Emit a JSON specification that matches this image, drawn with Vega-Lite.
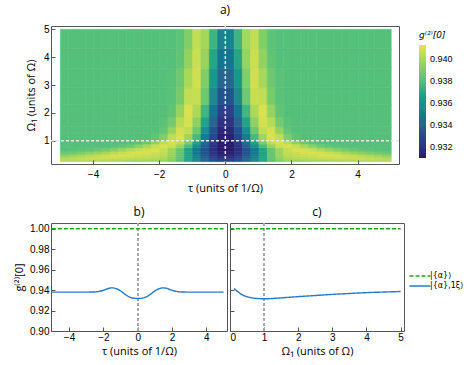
{
"$schema":"https://vega.github.io/schema/vega-lite/v6.json",
"background":"white",
"padding":{"left":13,"top":3,"right":2,"bottom":2},
"bounds":"flush",
"spacing":59,
"config":{
"font":"Liberation Sans",
"view":{"stroke":"#555","strokeWidth":1},
"rect":{"binSpacing":0},
"axis":{"labelFontSize":10,"labelColor":"#000","titleFontSize":11,"titleFontWeight":"normal","titleColor":"#000","titleFont":"Open Sans","domain":false,"grid":false,"tickColor":"#555","tickSize":4,"offset":-4,"labelOverlap":false,"tickCount":20},
"title":{"fontSize":12,"fontWeight":"normal","font":"Open Sans","color":"#000"}
},
"resolve":{"scale":{"color":"independent","strokeDash":"independent"},"legend":{"color":"independent","strokeDash":"independent"}},
"datasets":{
"heat":[
{"t":-4.875,"a":0.25,"b":0.31,"g":0.9403},{"t":-4.625,"a":0.25,"b":0.31,"g":0.9403},{"t":-4.375,"a":0.25,"b":0.31,"g":0.9403},{"t":-4.125,"a":0.25,"b":0.31,"g":0.9402},{"t":-3.875,"a":0.25,"b":0.31,"g":0.9402},{"t":-3.625,"a":0.25,"b":0.31,"g":0.9401},{"t":-3.375,"a":0.25,"b":0.31,"g":0.94},{"t":-3.125,"a":0.25,"b":0.31,"g":0.94},{"t":-2.875,"a":0.25,"b":0.31,"g":0.9399},{"t":-2.625,"a":0.25,"b":0.31,"g":0.9398},{"t":-2.375,"a":0.25,"b":0.31,"g":0.9398},{"t":-2.125,"a":0.25,"b":0.31,"g":0.9397},{"t":-1.875,"a":0.25,"b":0.31,"g":0.9396},{"t":-1.625,"a":0.25,"b":0.31,"g":0.9391},{"t":-1.375,"a":0.25,"b":0.31,"g":0.9381},{"t":-1.125,"a":0.25,"b":0.31,"g":0.9369},{"t":-0.875,"a":0.25,"b":0.31,"g":0.9356},{"t":-0.625,"a":0.25,"b":0.31,"g":0.9344},{"t":-0.375,"a":0.25,"b":0.31,"g":0.9334},{"t":-0.125,"a":0.25,"b":0.31,"g":0.9329},
{"t":0.125,"a":0.25,"b":0.31,"g":0.9329},{"t":0.375,"a":0.25,"b":0.31,"g":0.9334},{"t":0.625,"a":0.25,"b":0.31,"g":0.9344},{"t":0.875,"a":0.25,"b":0.31,"g":0.9356},{"t":1.125,"a":0.25,"b":0.31,"g":0.9369},{"t":1.375,"a":0.25,"b":0.31,"g":0.9381},{"t":1.625,"a":0.25,"b":0.31,"g":0.9391},{"t":1.875,"a":0.25,"b":0.31,"g":0.9396},{"t":2.125,"a":0.25,"b":0.31,"g":0.9397},{"t":2.375,"a":0.25,"b":0.31,"g":0.9398},{"t":2.625,"a":0.25,"b":0.31,"g":0.9398},{"t":2.875,"a":0.25,"b":0.31,"g":0.9399},{"t":3.125,"a":0.25,"b":0.31,"g":0.94},{"t":3.375,"a":0.25,"b":0.31,"g":0.94},{"t":3.625,"a":0.25,"b":0.31,"g":0.9401},{"t":3.875,"a":0.25,"b":0.31,"g":0.9402},{"t":4.125,"a":0.25,"b":0.31,"g":0.9402},{"t":4.375,"a":0.25,"b":0.31,"g":0.9403},{"t":4.625,"a":0.25,"b":0.31,"g":0.9403},{"t":4.875,"a":0.25,"b":0.31,"g":0.9403},
{"t":-4.875,"a":0.31,"b":0.37,"g":0.9403},{"t":-4.625,"a":0.31,"b":0.37,"g":0.9404},{"t":-4.375,"a":0.31,"b":0.37,"g":0.9405},{"t":-4.125,"a":0.31,"b":0.37,"g":0.9406},{"t":-3.875,"a":0.31,"b":0.37,"g":0.9406},{"t":-3.625,"a":0.31,"b":0.37,"g":0.9405},{"t":-3.375,"a":0.31,"b":0.37,"g":0.9404},{"t":-3.125,"a":0.31,"b":0.37,"g":0.9404},{"t":-2.875,"a":0.31,"b":0.37,"g":0.9403},{"t":-2.625,"a":0.31,"b":0.37,"g":0.9402},{"t":-2.375,"a":0.31,"b":0.37,"g":0.9401},{"t":-2.125,"a":0.31,"b":0.37,"g":0.94},{"t":-1.875,"a":0.31,"b":0.37,"g":0.9399},{"t":-1.625,"a":0.31,"b":0.37,"g":0.9393},{"t":-1.375,"a":0.31,"b":0.37,"g":0.9382},{"t":-1.125,"a":0.31,"b":0.37,"g":0.9368},{"t":-0.875,"a":0.31,"b":0.37,"g":0.9354},{"t":-0.625,"a":0.31,"b":0.37,"g":0.934},{"t":-0.375,"a":0.31,"b":0.37,"g":0.9329},{"t":-0.125,"a":0.31,"b":0.37,"g":0.9323},
{"t":0.125,"a":0.31,"b":0.37,"g":0.9323},{"t":0.375,"a":0.31,"b":0.37,"g":0.9329},{"t":0.625,"a":0.31,"b":0.37,"g":0.934},{"t":0.875,"a":0.31,"b":0.37,"g":0.9354},{"t":1.125,"a":0.31,"b":0.37,"g":0.9368},{"t":1.375,"a":0.31,"b":0.37,"g":0.9382},{"t":1.625,"a":0.31,"b":0.37,"g":0.9393},{"t":1.875,"a":0.31,"b":0.37,"g":0.9399},{"t":2.125,"a":0.31,"b":0.37,"g":0.94},{"t":2.375,"a":0.31,"b":0.37,"g":0.9401},{"t":2.625,"a":0.31,"b":0.37,"g":0.9402},{"t":2.875,"a":0.31,"b":0.37,"g":0.9403},{"t":3.125,"a":0.31,"b":0.37,"g":0.9404},{"t":3.375,"a":0.31,"b":0.37,"g":0.9404},{"t":3.625,"a":0.31,"b":0.37,"g":0.9405},{"t":3.875,"a":0.31,"b":0.37,"g":0.9406},{"t":4.125,"a":0.31,"b":0.37,"g":0.9406},{"t":4.375,"a":0.31,"b":0.37,"g":0.9405},{"t":4.625,"a":0.31,"b":0.37,"g":0.9404},{"t":4.875,"a":0.31,"b":0.37,"g":0.9403},
{"t":-4.875,"a":0.37,"b":0.44,"g":0.9399},{"t":-4.625,"a":0.37,"b":0.44,"g":0.9402},{"t":-4.375,"a":0.37,"b":0.44,"g":0.9404},{"t":-4.125,"a":0.37,"b":0.44,"g":0.9406},{"t":-3.875,"a":0.37,"b":0.44,"g":0.9407},{"t":-3.625,"a":0.37,"b":0.44,"g":0.9408},{"t":-3.375,"a":0.37,"b":0.44,"g":0.9408},{"t":-3.125,"a":0.37,"b":0.44,"g":0.9407},{"t":-2.875,"a":0.37,"b":0.44,"g":0.9406},{"t":-2.625,"a":0.37,"b":0.44,"g":0.9405},{"t":-2.375,"a":0.37,"b":0.44,"g":0.9404},{"t":-2.125,"a":0.37,"b":0.44,"g":0.9403},{"t":-1.875,"a":0.37,"b":0.44,"g":0.9401},{"t":-1.625,"a":0.37,"b":0.44,"g":0.9394},{"t":-1.375,"a":0.37,"b":0.44,"g":0.9383},{"t":-1.125,"a":0.37,"b":0.44,"g":0.9368},{"t":-0.875,"a":0.37,"b":0.44,"g":0.9352},{"t":-0.625,"a":0.37,"b":0.44,"g":0.9338},{"t":-0.375,"a":0.37,"b":0.44,"g":0.9326},{"t":-0.125,"a":0.37,"b":0.44,"g":0.9319},
{"t":0.125,"a":0.37,"b":0.44,"g":0.9319},{"t":0.375,"a":0.37,"b":0.44,"g":0.9326},{"t":0.625,"a":0.37,"b":0.44,"g":0.9338},{"t":0.875,"a":0.37,"b":0.44,"g":0.9352},{"t":1.125,"a":0.37,"b":0.44,"g":0.9368},{"t":1.375,"a":0.37,"b":0.44,"g":0.9383},{"t":1.625,"a":0.37,"b":0.44,"g":0.9394},{"t":1.875,"a":0.37,"b":0.44,"g":0.9401},{"t":2.125,"a":0.37,"b":0.44,"g":0.9403},{"t":2.375,"a":0.37,"b":0.44,"g":0.9404},{"t":2.625,"a":0.37,"b":0.44,"g":0.9405},{"t":2.875,"a":0.37,"b":0.44,"g":0.9406},{"t":3.125,"a":0.37,"b":0.44,"g":0.9407},{"t":3.375,"a":0.37,"b":0.44,"g":0.9408},{"t":3.625,"a":0.37,"b":0.44,"g":0.9408},{"t":3.875,"a":0.37,"b":0.44,"g":0.9407},{"t":4.125,"a":0.37,"b":0.44,"g":0.9406},{"t":4.375,"a":0.37,"b":0.44,"g":0.9404},{"t":4.625,"a":0.37,"b":0.44,"g":0.9402},{"t":4.875,"a":0.37,"b":0.44,"g":0.9399},
{"t":-4.875,"a":0.44,"b":0.52,"g":0.9393},{"t":-4.625,"a":0.44,"b":0.52,"g":0.9396},{"t":-4.375,"a":0.44,"b":0.52,"g":0.9399},{"t":-4.125,"a":0.44,"b":0.52,"g":0.9402},{"t":-3.875,"a":0.44,"b":0.52,"g":0.9405},{"t":-3.625,"a":0.44,"b":0.52,"g":0.9407},{"t":-3.375,"a":0.44,"b":0.52,"g":0.9409},{"t":-3.125,"a":0.44,"b":0.52,"g":0.941},{"t":-2.875,"a":0.44,"b":0.52,"g":0.941},{"t":-2.625,"a":0.44,"b":0.52,"g":0.9408},{"t":-2.375,"a":0.44,"b":0.52,"g":0.9407},{"t":-2.125,"a":0.44,"b":0.52,"g":0.9406},{"t":-1.875,"a":0.44,"b":0.52,"g":0.9404},{"t":-1.625,"a":0.44,"b":0.52,"g":0.9397},{"t":-1.375,"a":0.44,"b":0.52,"g":0.9384},{"t":-1.125,"a":0.44,"b":0.52,"g":0.9368},{"t":-0.875,"a":0.44,"b":0.52,"g":0.9352},{"t":-0.625,"a":0.44,"b":0.52,"g":0.9336},{"t":-0.375,"a":0.44,"b":0.52,"g":0.9323},{"t":-0.125,"a":0.44,"b":0.52,"g":0.9316},
{"t":0.125,"a":0.44,"b":0.52,"g":0.9316},{"t":0.375,"a":0.44,"b":0.52,"g":0.9323},{"t":0.625,"a":0.44,"b":0.52,"g":0.9336},{"t":0.875,"a":0.44,"b":0.52,"g":0.9352},{"t":1.125,"a":0.44,"b":0.52,"g":0.9368},{"t":1.375,"a":0.44,"b":0.52,"g":0.9384},{"t":1.625,"a":0.44,"b":0.52,"g":0.9397},{"t":1.875,"a":0.44,"b":0.52,"g":0.9404},{"t":2.125,"a":0.44,"b":0.52,"g":0.9406},{"t":2.375,"a":0.44,"b":0.52,"g":0.9407},{"t":2.625,"a":0.44,"b":0.52,"g":0.9408},{"t":2.875,"a":0.44,"b":0.52,"g":0.941},{"t":3.125,"a":0.44,"b":0.52,"g":0.941},{"t":3.375,"a":0.44,"b":0.52,"g":0.9409},{"t":3.625,"a":0.44,"b":0.52,"g":0.9407},{"t":3.875,"a":0.44,"b":0.52,"g":0.9405},{"t":4.125,"a":0.44,"b":0.52,"g":0.9402},{"t":4.375,"a":0.44,"b":0.52,"g":0.9399},{"t":4.625,"a":0.44,"b":0.52,"g":0.9396},{"t":4.875,"a":0.44,"b":0.52,"g":0.9393},
{"t":-4.875,"a":0.52,"b":0.62,"g":0.9385},{"t":-4.625,"a":0.52,"b":0.62,"g":0.9387},{"t":-4.375,"a":0.52,"b":0.62,"g":0.939},{"t":-4.125,"a":0.52,"b":0.62,"g":0.9393},{"t":-3.875,"a":0.52,"b":0.62,"g":0.9396},{"t":-3.625,"a":0.52,"b":0.62,"g":0.94},{"t":-3.375,"a":0.52,"b":0.62,"g":0.9404},{"t":-3.125,"a":0.52,"b":0.62,"g":0.9407},{"t":-2.875,"a":0.52,"b":0.62,"g":0.9409},{"t":-2.625,"a":0.52,"b":0.62,"g":0.941},{"t":-2.375,"a":0.52,"b":0.62,"g":0.9409},{"t":-2.125,"a":0.52,"b":0.62,"g":0.9407},{"t":-1.875,"a":0.52,"b":0.62,"g":0.9405},{"t":-1.625,"a":0.52,"b":0.62,"g":0.9397},{"t":-1.375,"a":0.52,"b":0.62,"g":0.9384},{"t":-1.125,"a":0.52,"b":0.62,"g":0.9368},{"t":-0.875,"a":0.52,"b":0.62,"g":0.935},{"t":-0.625,"a":0.52,"b":0.62,"g":0.9334},{"t":-0.375,"a":0.52,"b":0.62,"g":0.9321},{"t":-0.125,"a":0.52,"b":0.62,"g":0.9313},
{"t":0.125,"a":0.52,"b":0.62,"g":0.9313},{"t":0.375,"a":0.52,"b":0.62,"g":0.9321},{"t":0.625,"a":0.52,"b":0.62,"g":0.9334},{"t":0.875,"a":0.52,"b":0.62,"g":0.935},{"t":1.125,"a":0.52,"b":0.62,"g":0.9368},{"t":1.375,"a":0.52,"b":0.62,"g":0.9384},{"t":1.625,"a":0.52,"b":0.62,"g":0.9397},{"t":1.875,"a":0.52,"b":0.62,"g":0.9405},{"t":2.125,"a":0.52,"b":0.62,"g":0.9407},{"t":2.375,"a":0.52,"b":0.62,"g":0.9409},{"t":2.625,"a":0.52,"b":0.62,"g":0.941},{"t":2.875,"a":0.52,"b":0.62,"g":0.9409},{"t":3.125,"a":0.52,"b":0.62,"g":0.9407},{"t":3.375,"a":0.52,"b":0.62,"g":0.9404},{"t":3.625,"a":0.52,"b":0.62,"g":0.94},{"t":3.875,"a":0.52,"b":0.62,"g":0.9396},{"t":4.125,"a":0.52,"b":0.62,"g":0.9393},{"t":4.375,"a":0.52,"b":0.62,"g":0.939},{"t":4.625,"a":0.52,"b":0.62,"g":0.9387},{"t":4.875,"a":0.52,"b":0.62,"g":0.9385},
{"t":-4.875,"a":0.62,"b":0.75,"g":0.938},{"t":-4.625,"a":0.62,"b":0.75,"g":0.9381},{"t":-4.375,"a":0.62,"b":0.75,"g":0.9382},{"t":-4.125,"a":0.62,"b":0.75,"g":0.9383},{"t":-3.875,"a":0.62,"b":0.75,"g":0.9385},{"t":-3.625,"a":0.62,"b":0.75,"g":0.9388},{"t":-3.375,"a":0.62,"b":0.75,"g":0.9392},{"t":-3.125,"a":0.62,"b":0.75,"g":0.9397},{"t":-2.875,"a":0.62,"b":0.75,"g":0.9402},{"t":-2.625,"a":0.62,"b":0.75,"g":0.9406},{"t":-2.375,"a":0.62,"b":0.75,"g":0.9409},{"t":-2.125,"a":0.62,"b":0.75,"g":0.941},{"t":-1.875,"a":0.62,"b":0.75,"g":0.9406},{"t":-1.625,"a":0.62,"b":0.75,"g":0.9398},{"t":-1.375,"a":0.62,"b":0.75,"g":0.9384},{"t":-1.125,"a":0.62,"b":0.75,"g":0.9368},{"t":-0.875,"a":0.62,"b":0.75,"g":0.9349},{"t":-0.625,"a":0.62,"b":0.75,"g":0.9333},{"t":-0.375,"a":0.62,"b":0.75,"g":0.9319},{"t":-0.125,"a":0.62,"b":0.75,"g":0.9311},
{"t":0.125,"a":0.62,"b":0.75,"g":0.9311},{"t":0.375,"a":0.62,"b":0.75,"g":0.9319},{"t":0.625,"a":0.62,"b":0.75,"g":0.9333},{"t":0.875,"a":0.62,"b":0.75,"g":0.9349},{"t":1.125,"a":0.62,"b":0.75,"g":0.9368},{"t":1.375,"a":0.62,"b":0.75,"g":0.9384},{"t":1.625,"a":0.62,"b":0.75,"g":0.9398},{"t":1.875,"a":0.62,"b":0.75,"g":0.9406},{"t":2.125,"a":0.62,"b":0.75,"g":0.941},{"t":2.375,"a":0.62,"b":0.75,"g":0.9409},{"t":2.625,"a":0.62,"b":0.75,"g":0.9406},{"t":2.875,"a":0.62,"b":0.75,"g":0.9402},{"t":3.125,"a":0.62,"b":0.75,"g":0.9397},{"t":3.375,"a":0.62,"b":0.75,"g":0.9392},{"t":3.625,"a":0.62,"b":0.75,"g":0.9388},{"t":3.875,"a":0.62,"b":0.75,"g":0.9385},{"t":4.125,"a":0.62,"b":0.75,"g":0.9383},{"t":4.375,"a":0.62,"b":0.75,"g":0.9382},{"t":4.625,"a":0.62,"b":0.75,"g":0.9381},{"t":4.875,"a":0.62,"b":0.75,"g":0.938},
{"t":-4.875,"a":0.75,"b":0.88,"g":0.938},{"t":-4.625,"a":0.75,"b":0.88,"g":0.938},{"t":-4.375,"a":0.75,"b":0.88,"g":0.938},{"t":-4.125,"a":0.75,"b":0.88,"g":0.938},{"t":-3.875,"a":0.75,"b":0.88,"g":0.938},{"t":-3.625,"a":0.75,"b":0.88,"g":0.938},{"t":-3.375,"a":0.75,"b":0.88,"g":0.9381},{"t":-3.125,"a":0.75,"b":0.88,"g":0.9383},{"t":-2.875,"a":0.75,"b":0.88,"g":0.9387},{"t":-2.625,"a":0.75,"b":0.88,"g":0.9393},{"t":-2.375,"a":0.75,"b":0.88,"g":0.94},{"t":-2.125,"a":0.75,"b":0.88,"g":0.9406},{"t":-1.875,"a":0.75,"b":0.88,"g":0.941},{"t":-1.625,"a":0.75,"b":0.88,"g":0.9407},{"t":-1.375,"a":0.75,"b":0.88,"g":0.9396},{"t":-1.125,"a":0.75,"b":0.88,"g":0.9378},{"t":-0.875,"a":0.75,"b":0.88,"g":0.9358},{"t":-0.625,"a":0.75,"b":0.88,"g":0.9338},{"t":-0.375,"a":0.75,"b":0.88,"g":0.9321},{"t":-0.125,"a":0.75,"b":0.88,"g":0.9311},
{"t":0.125,"a":0.75,"b":0.88,"g":0.9311},{"t":0.375,"a":0.75,"b":0.88,"g":0.9321},{"t":0.625,"a":0.75,"b":0.88,"g":0.9338},{"t":0.875,"a":0.75,"b":0.88,"g":0.9358},{"t":1.125,"a":0.75,"b":0.88,"g":0.9378},{"t":1.375,"a":0.75,"b":0.88,"g":0.9396},{"t":1.625,"a":0.75,"b":0.88,"g":0.9407},{"t":1.875,"a":0.75,"b":0.88,"g":0.941},{"t":2.125,"a":0.75,"b":0.88,"g":0.9406},{"t":2.375,"a":0.75,"b":0.88,"g":0.94},{"t":2.625,"a":0.75,"b":0.88,"g":0.9393},{"t":2.875,"a":0.75,"b":0.88,"g":0.9387},{"t":3.125,"a":0.75,"b":0.88,"g":0.9383},{"t":3.375,"a":0.75,"b":0.88,"g":0.9381},{"t":3.625,"a":0.75,"b":0.88,"g":0.938},{"t":3.875,"a":0.75,"b":0.88,"g":0.938},{"t":4.125,"a":0.75,"b":0.88,"g":0.938},{"t":4.375,"a":0.75,"b":0.88,"g":0.938},{"t":4.625,"a":0.75,"b":0.88,"g":0.938},{"t":4.875,"a":0.75,"b":0.88,"g":0.938},
{"t":-4.875,"a":0.88,"b":1.0,"g":0.938},{"t":-4.625,"a":0.88,"b":1.0,"g":0.938},{"t":-4.375,"a":0.88,"b":1.0,"g":0.938},{"t":-4.125,"a":0.88,"b":1.0,"g":0.938},{"t":-3.875,"a":0.88,"b":1.0,"g":0.938},{"t":-3.625,"a":0.88,"b":1.0,"g":0.938},{"t":-3.375,"a":0.88,"b":1.0,"g":0.938},{"t":-3.125,"a":0.88,"b":1.0,"g":0.938},{"t":-2.875,"a":0.88,"b":1.0,"g":0.938},{"t":-2.625,"a":0.88,"b":1.0,"g":0.9382},{"t":-2.375,"a":0.88,"b":1.0,"g":0.9386},{"t":-2.125,"a":0.88,"b":1.0,"g":0.9395},{"t":-1.875,"a":0.88,"b":1.0,"g":0.9404},{"t":-1.625,"a":0.88,"b":1.0,"g":0.941},{"t":-1.375,"a":0.88,"b":1.0,"g":0.9405},{"t":-1.125,"a":0.88,"b":1.0,"g":0.939},{"t":-0.875,"a":0.88,"b":1.0,"g":0.9368},{"t":-0.625,"a":0.88,"b":1.0,"g":0.9345},{"t":-0.375,"a":0.88,"b":1.0,"g":0.9324},{"t":-0.125,"a":0.88,"b":1.0,"g":0.9312},
{"t":0.125,"a":0.88,"b":1.0,"g":0.9312},{"t":0.375,"a":0.88,"b":1.0,"g":0.9324},{"t":0.625,"a":0.88,"b":1.0,"g":0.9345},{"t":0.875,"a":0.88,"b":1.0,"g":0.9368},{"t":1.125,"a":0.88,"b":1.0,"g":0.939},{"t":1.375,"a":0.88,"b":1.0,"g":0.9405},{"t":1.625,"a":0.88,"b":1.0,"g":0.941},{"t":1.875,"a":0.88,"b":1.0,"g":0.9404},{"t":2.125,"a":0.88,"b":1.0,"g":0.9395},{"t":2.375,"a":0.88,"b":1.0,"g":0.9386},{"t":2.625,"a":0.88,"b":1.0,"g":0.9382},{"t":2.875,"a":0.88,"b":1.0,"g":0.938},{"t":3.125,"a":0.88,"b":1.0,"g":0.938},{"t":3.375,"a":0.88,"b":1.0,"g":0.938},{"t":3.625,"a":0.88,"b":1.0,"g":0.938},{"t":3.875,"a":0.88,"b":1.0,"g":0.938},{"t":4.125,"a":0.88,"b":1.0,"g":0.938},{"t":4.375,"a":0.88,"b":1.0,"g":0.938},{"t":4.625,"a":0.88,"b":1.0,"g":0.938},{"t":4.875,"a":0.88,"b":1.0,"g":0.938},
{"t":-4.875,"a":1.0,"b":1.25,"g":0.938},{"t":-4.625,"a":1.0,"b":1.25,"g":0.938},{"t":-4.375,"a":1.0,"b":1.25,"g":0.938},{"t":-4.125,"a":1.0,"b":1.25,"g":0.938},{"t":-3.875,"a":1.0,"b":1.25,"g":0.938},{"t":-3.625,"a":1.0,"b":1.25,"g":0.938},{"t":-3.375,"a":1.0,"b":1.25,"g":0.938},{"t":-3.125,"a":1.0,"b":1.25,"g":0.938},{"t":-2.875,"a":1.0,"b":1.25,"g":0.938},{"t":-2.625,"a":1.0,"b":1.25,"g":0.938},{"t":-2.375,"a":1.0,"b":1.25,"g":0.938},{"t":-2.125,"a":1.0,"b":1.25,"g":0.9383},{"t":-1.875,"a":1.0,"b":1.25,"g":0.9391},{"t":-1.625,"a":1.0,"b":1.25,"g":0.9405},{"t":-1.375,"a":1.0,"b":1.25,"g":0.941},{"t":-1.125,"a":1.0,"b":1.25,"g":0.9398},{"t":-0.875,"a":1.0,"b":1.25,"g":0.9377},{"t":-0.625,"a":1.0,"b":1.25,"g":0.9351},{"t":-0.375,"a":1.0,"b":1.25,"g":0.9328},{"t":-0.125,"a":1.0,"b":1.25,"g":0.9313},
{"t":0.125,"a":1.0,"b":1.25,"g":0.9313},{"t":0.375,"a":1.0,"b":1.25,"g":0.9328},{"t":0.625,"a":1.0,"b":1.25,"g":0.9351},{"t":0.875,"a":1.0,"b":1.25,"g":0.9377},{"t":1.125,"a":1.0,"b":1.25,"g":0.9398},{"t":1.375,"a":1.0,"b":1.25,"g":0.941},{"t":1.625,"a":1.0,"b":1.25,"g":0.9405},{"t":1.875,"a":1.0,"b":1.25,"g":0.9391},{"t":2.125,"a":1.0,"b":1.25,"g":0.9383},{"t":2.375,"a":1.0,"b":1.25,"g":0.938},{"t":2.625,"a":1.0,"b":1.25,"g":0.938},{"t":2.875,"a":1.0,"b":1.25,"g":0.938},{"t":3.125,"a":1.0,"b":1.25,"g":0.938},{"t":3.375,"a":1.0,"b":1.25,"g":0.938},{"t":3.625,"a":1.0,"b":1.25,"g":0.938},{"t":3.875,"a":1.0,"b":1.25,"g":0.938},{"t":4.125,"a":1.0,"b":1.25,"g":0.938},{"t":4.375,"a":1.0,"b":1.25,"g":0.938},{"t":4.625,"a":1.0,"b":1.25,"g":0.938},{"t":4.875,"a":1.0,"b":1.25,"g":0.938},
{"t":-4.875,"a":1.25,"b":1.5,"g":0.938},{"t":-4.625,"a":1.25,"b":1.5,"g":0.938},{"t":-4.375,"a":1.25,"b":1.5,"g":0.938},{"t":-4.125,"a":1.25,"b":1.5,"g":0.938},{"t":-3.875,"a":1.25,"b":1.5,"g":0.938},{"t":-3.625,"a":1.25,"b":1.5,"g":0.938},{"t":-3.375,"a":1.25,"b":1.5,"g":0.938},{"t":-3.125,"a":1.25,"b":1.5,"g":0.938},{"t":-2.875,"a":1.25,"b":1.5,"g":0.938},{"t":-2.625,"a":1.25,"b":1.5,"g":0.938},{"t":-2.375,"a":1.25,"b":1.5,"g":0.938},{"t":-2.125,"a":1.25,"b":1.5,"g":0.938},{"t":-1.875,"a":1.25,"b":1.5,"g":0.9384},{"t":-1.625,"a":1.25,"b":1.5,"g":0.9396},{"t":-1.375,"a":1.25,"b":1.5,"g":0.9409},{"t":-1.125,"a":1.25,"b":1.5,"g":0.9405},{"t":-0.875,"a":1.25,"b":1.5,"g":0.9386},{"t":-0.625,"a":1.25,"b":1.5,"g":0.9359},{"t":-0.375,"a":1.25,"b":1.5,"g":0.9333},{"t":-0.125,"a":1.25,"b":1.5,"g":0.9316},
{"t":0.125,"a":1.25,"b":1.5,"g":0.9316},{"t":0.375,"a":1.25,"b":1.5,"g":0.9333},{"t":0.625,"a":1.25,"b":1.5,"g":0.9359},{"t":0.875,"a":1.25,"b":1.5,"g":0.9386},{"t":1.125,"a":1.25,"b":1.5,"g":0.9405},{"t":1.375,"a":1.25,"b":1.5,"g":0.9409},{"t":1.625,"a":1.25,"b":1.5,"g":0.9396},{"t":1.875,"a":1.25,"b":1.5,"g":0.9384},{"t":2.125,"a":1.25,"b":1.5,"g":0.938},{"t":2.375,"a":1.25,"b":1.5,"g":0.938},{"t":2.625,"a":1.25,"b":1.5,"g":0.938},{"t":2.875,"a":1.25,"b":1.5,"g":0.938},{"t":3.125,"a":1.25,"b":1.5,"g":0.938},{"t":3.375,"a":1.25,"b":1.5,"g":0.938},{"t":3.625,"a":1.25,"b":1.5,"g":0.938},{"t":3.875,"a":1.25,"b":1.5,"g":0.938},{"t":4.125,"a":1.25,"b":1.5,"g":0.938},{"t":4.375,"a":1.25,"b":1.5,"g":0.938},{"t":4.625,"a":1.25,"b":1.5,"g":0.938},{"t":4.875,"a":1.25,"b":1.5,"g":0.938},
{"t":-4.875,"a":1.5,"b":1.85,"g":0.938},{"t":-4.625,"a":1.5,"b":1.85,"g":0.938},{"t":-4.375,"a":1.5,"b":1.85,"g":0.938},{"t":-4.125,"a":1.5,"b":1.85,"g":0.938},{"t":-3.875,"a":1.5,"b":1.85,"g":0.938},{"t":-3.625,"a":1.5,"b":1.85,"g":0.938},{"t":-3.375,"a":1.5,"b":1.85,"g":0.938},{"t":-3.125,"a":1.5,"b":1.85,"g":0.938},{"t":-2.875,"a":1.5,"b":1.85,"g":0.938},{"t":-2.625,"a":1.5,"b":1.85,"g":0.938},{"t":-2.375,"a":1.5,"b":1.85,"g":0.938},{"t":-2.125,"a":1.5,"b":1.85,"g":0.938},{"t":-1.875,"a":1.5,"b":1.85,"g":0.9381},{"t":-1.625,"a":1.5,"b":1.85,"g":0.9388},{"t":-1.375,"a":1.5,"b":1.85,"g":0.9403},{"t":-1.125,"a":1.5,"b":1.85,"g":0.9409},{"t":-0.875,"a":1.5,"b":1.85,"g":0.9394},{"t":-0.625,"a":1.5,"b":1.85,"g":0.9368},{"t":-0.375,"a":1.5,"b":1.85,"g":0.934},{"t":-0.125,"a":1.5,"b":1.85,"g":0.9321},
{"t":0.125,"a":1.5,"b":1.85,"g":0.9321},{"t":0.375,"a":1.5,"b":1.85,"g":0.934},{"t":0.625,"a":1.5,"b":1.85,"g":0.9368},{"t":0.875,"a":1.5,"b":1.85,"g":0.9394},{"t":1.125,"a":1.5,"b":1.85,"g":0.9409},{"t":1.375,"a":1.5,"b":1.85,"g":0.9403},{"t":1.625,"a":1.5,"b":1.85,"g":0.9388},{"t":1.875,"a":1.5,"b":1.85,"g":0.9381},{"t":2.125,"a":1.5,"b":1.85,"g":0.938},{"t":2.375,"a":1.5,"b":1.85,"g":0.938},{"t":2.625,"a":1.5,"b":1.85,"g":0.938},{"t":2.875,"a":1.5,"b":1.85,"g":0.938},{"t":3.125,"a":1.5,"b":1.85,"g":0.938},{"t":3.375,"a":1.5,"b":1.85,"g":0.938},{"t":3.625,"a":1.5,"b":1.85,"g":0.938},{"t":3.875,"a":1.5,"b":1.85,"g":0.938},{"t":4.125,"a":1.5,"b":1.85,"g":0.938},{"t":4.375,"a":1.5,"b":1.85,"g":0.938},{"t":4.625,"a":1.5,"b":1.85,"g":0.938},{"t":4.875,"a":1.5,"b":1.85,"g":0.938},
{"t":-4.875,"a":1.85,"b":2.3,"g":0.938},{"t":-4.625,"a":1.85,"b":2.3,"g":0.938},{"t":-4.375,"a":1.85,"b":2.3,"g":0.938},{"t":-4.125,"a":1.85,"b":2.3,"g":0.938},{"t":-3.875,"a":1.85,"b":2.3,"g":0.938},{"t":-3.625,"a":1.85,"b":2.3,"g":0.938},{"t":-3.375,"a":1.85,"b":2.3,"g":0.938},{"t":-3.125,"a":1.85,"b":2.3,"g":0.938},{"t":-2.875,"a":1.85,"b":2.3,"g":0.938},{"t":-2.625,"a":1.85,"b":2.3,"g":0.938},{"t":-2.375,"a":1.85,"b":2.3,"g":0.938},{"t":-2.125,"a":1.85,"b":2.3,"g":0.938},{"t":-1.875,"a":1.85,"b":2.3,"g":0.938},{"t":-1.625,"a":1.85,"b":2.3,"g":0.9383},{"t":-1.375,"a":1.85,"b":2.3,"g":0.9396},{"t":-1.125,"a":1.85,"b":2.3,"g":0.941},{"t":-0.875,"a":1.85,"b":2.3,"g":0.9401},{"t":-0.625,"a":1.85,"b":2.3,"g":0.9376},{"t":-0.375,"a":1.85,"b":2.3,"g":0.9347},{"t":-0.125,"a":1.85,"b":2.3,"g":0.9326},
{"t":0.125,"a":1.85,"b":2.3,"g":0.9326},{"t":0.375,"a":1.85,"b":2.3,"g":0.9347},{"t":0.625,"a":1.85,"b":2.3,"g":0.9376},{"t":0.875,"a":1.85,"b":2.3,"g":0.9401},{"t":1.125,"a":1.85,"b":2.3,"g":0.941},{"t":1.375,"a":1.85,"b":2.3,"g":0.9396},{"t":1.625,"a":1.85,"b":2.3,"g":0.9383},{"t":1.875,"a":1.85,"b":2.3,"g":0.938},{"t":2.125,"a":1.85,"b":2.3,"g":0.938},{"t":2.375,"a":1.85,"b":2.3,"g":0.938},{"t":2.625,"a":1.85,"b":2.3,"g":0.938},{"t":2.875,"a":1.85,"b":2.3,"g":0.938},{"t":3.125,"a":1.85,"b":2.3,"g":0.938},{"t":3.375,"a":1.85,"b":2.3,"g":0.938},{"t":3.625,"a":1.85,"b":2.3,"g":0.938},{"t":3.875,"a":1.85,"b":2.3,"g":0.938},{"t":4.125,"a":1.85,"b":2.3,"g":0.938},{"t":4.375,"a":1.85,"b":2.3,"g":0.938},{"t":4.625,"a":1.85,"b":2.3,"g":0.938},{"t":4.875,"a":1.85,"b":2.3,"g":0.938},
{"t":-4.875,"a":2.3,"b":2.9,"g":0.938},{"t":-4.625,"a":2.3,"b":2.9,"g":0.938},{"t":-4.375,"a":2.3,"b":2.9,"g":0.938},{"t":-4.125,"a":2.3,"b":2.9,"g":0.938},{"t":-3.875,"a":2.3,"b":2.9,"g":0.938},{"t":-3.625,"a":2.3,"b":2.9,"g":0.938},{"t":-3.375,"a":2.3,"b":2.9,"g":0.938},{"t":-3.125,"a":2.3,"b":2.9,"g":0.938},{"t":-2.875,"a":2.3,"b":2.9,"g":0.938},{"t":-2.625,"a":2.3,"b":2.9,"g":0.938},{"t":-2.375,"a":2.3,"b":2.9,"g":0.938},{"t":-2.125,"a":2.3,"b":2.9,"g":0.938},{"t":-1.875,"a":2.3,"b":2.9,"g":0.938},{"t":-1.625,"a":2.3,"b":2.9,"g":0.9381},{"t":-1.375,"a":2.3,"b":2.9,"g":0.9389},{"t":-1.125,"a":2.3,"b":2.9,"g":0.9405},{"t":-0.875,"a":2.3,"b":2.9,"g":0.9406},{"t":-0.625,"a":2.3,"b":2.9,"g":0.9386},{"t":-0.375,"a":2.3,"b":2.9,"g":0.9356},{"t":-0.125,"a":2.3,"b":2.9,"g":0.9334},
{"t":0.125,"a":2.3,"b":2.9,"g":0.9334},{"t":0.375,"a":2.3,"b":2.9,"g":0.9356},{"t":0.625,"a":2.3,"b":2.9,"g":0.9386},{"t":0.875,"a":2.3,"b":2.9,"g":0.9406},{"t":1.125,"a":2.3,"b":2.9,"g":0.9405},{"t":1.375,"a":2.3,"b":2.9,"g":0.9389},{"t":1.625,"a":2.3,"b":2.9,"g":0.9381},{"t":1.875,"a":2.3,"b":2.9,"g":0.938},{"t":2.125,"a":2.3,"b":2.9,"g":0.938},{"t":2.375,"a":2.3,"b":2.9,"g":0.938},{"t":2.625,"a":2.3,"b":2.9,"g":0.938},{"t":2.875,"a":2.3,"b":2.9,"g":0.938},{"t":3.125,"a":2.3,"b":2.9,"g":0.938},{"t":3.375,"a":2.3,"b":2.9,"g":0.938},{"t":3.625,"a":2.3,"b":2.9,"g":0.938},{"t":3.875,"a":2.3,"b":2.9,"g":0.938},{"t":4.125,"a":2.3,"b":2.9,"g":0.938},{"t":4.375,"a":2.3,"b":2.9,"g":0.938},{"t":4.625,"a":2.3,"b":2.9,"g":0.938},{"t":4.875,"a":2.3,"b":2.9,"g":0.938},
{"t":-4.875,"a":2.9,"b":3.6,"g":0.938},{"t":-4.625,"a":2.9,"b":3.6,"g":0.938},{"t":-4.375,"a":2.9,"b":3.6,"g":0.938},{"t":-4.125,"a":2.9,"b":3.6,"g":0.938},{"t":-3.875,"a":2.9,"b":3.6,"g":0.938},{"t":-3.625,"a":2.9,"b":3.6,"g":0.938},{"t":-3.375,"a":2.9,"b":3.6,"g":0.938},{"t":-3.125,"a":2.9,"b":3.6,"g":0.938},{"t":-2.875,"a":2.9,"b":3.6,"g":0.938},{"t":-2.625,"a":2.9,"b":3.6,"g":0.938},{"t":-2.375,"a":2.9,"b":3.6,"g":0.938},{"t":-2.125,"a":2.9,"b":3.6,"g":0.938},{"t":-1.875,"a":2.9,"b":3.6,"g":0.938},{"t":-1.625,"a":2.9,"b":3.6,"g":0.9381},{"t":-1.375,"a":2.9,"b":3.6,"g":0.9386},{"t":-1.125,"a":2.9,"b":3.6,"g":0.94},{"t":-0.875,"a":2.9,"b":3.6,"g":0.9408},{"t":-0.625,"a":2.9,"b":3.6,"g":0.9391},{"t":-0.375,"a":2.9,"b":3.6,"g":0.9363},{"t":-0.125,"a":2.9,"b":3.6,"g":0.9341},
{"t":0.125,"a":2.9,"b":3.6,"g":0.9341},{"t":0.375,"a":2.9,"b":3.6,"g":0.9363},{"t":0.625,"a":2.9,"b":3.6,"g":0.9391},{"t":0.875,"a":2.9,"b":3.6,"g":0.9408},{"t":1.125,"a":2.9,"b":3.6,"g":0.94},{"t":1.375,"a":2.9,"b":3.6,"g":0.9386},{"t":1.625,"a":2.9,"b":3.6,"g":0.9381},{"t":1.875,"a":2.9,"b":3.6,"g":0.938},{"t":2.125,"a":2.9,"b":3.6,"g":0.938},{"t":2.375,"a":2.9,"b":3.6,"g":0.938},{"t":2.625,"a":2.9,"b":3.6,"g":0.938},{"t":2.875,"a":2.9,"b":3.6,"g":0.938},{"t":3.125,"a":2.9,"b":3.6,"g":0.938},{"t":3.375,"a":2.9,"b":3.6,"g":0.938},{"t":3.625,"a":2.9,"b":3.6,"g":0.938},{"t":3.875,"a":2.9,"b":3.6,"g":0.938},{"t":4.125,"a":2.9,"b":3.6,"g":0.938},{"t":4.375,"a":2.9,"b":3.6,"g":0.938},{"t":4.625,"a":2.9,"b":3.6,"g":0.938},{"t":4.875,"a":2.9,"b":3.6,"g":0.938},
{"t":-4.875,"a":3.6,"b":4.3,"g":0.938},{"t":-4.625,"a":3.6,"b":4.3,"g":0.938},{"t":-4.375,"a":3.6,"b":4.3,"g":0.938},{"t":-4.125,"a":3.6,"b":4.3,"g":0.938},{"t":-3.875,"a":3.6,"b":4.3,"g":0.938},{"t":-3.625,"a":3.6,"b":4.3,"g":0.938},{"t":-3.375,"a":3.6,"b":4.3,"g":0.938},{"t":-3.125,"a":3.6,"b":4.3,"g":0.938},{"t":-2.875,"a":3.6,"b":4.3,"g":0.938},{"t":-2.625,"a":3.6,"b":4.3,"g":0.938},{"t":-2.375,"a":3.6,"b":4.3,"g":0.938},{"t":-2.125,"a":3.6,"b":4.3,"g":0.938},{"t":-1.875,"a":3.6,"b":4.3,"g":0.938},{"t":-1.625,"a":3.6,"b":4.3,"g":0.938},{"t":-1.375,"a":3.6,"b":4.3,"g":0.9383},{"t":-1.125,"a":3.6,"b":4.3,"g":0.9395},{"t":-0.875,"a":3.6,"b":4.3,"g":0.9407},{"t":-0.625,"a":3.6,"b":4.3,"g":0.9396},{"t":-0.375,"a":3.6,"b":4.3,"g":0.9369},{"t":-0.125,"a":3.6,"b":4.3,"g":0.9347},
{"t":0.125,"a":3.6,"b":4.3,"g":0.9347},{"t":0.375,"a":3.6,"b":4.3,"g":0.9369},{"t":0.625,"a":3.6,"b":4.3,"g":0.9396},{"t":0.875,"a":3.6,"b":4.3,"g":0.9407},{"t":1.125,"a":3.6,"b":4.3,"g":0.9395},{"t":1.375,"a":3.6,"b":4.3,"g":0.9383},{"t":1.625,"a":3.6,"b":4.3,"g":0.938},{"t":1.875,"a":3.6,"b":4.3,"g":0.938},{"t":2.125,"a":3.6,"b":4.3,"g":0.938},{"t":2.375,"a":3.6,"b":4.3,"g":0.938},{"t":2.625,"a":3.6,"b":4.3,"g":0.938},{"t":2.875,"a":3.6,"b":4.3,"g":0.938},{"t":3.125,"a":3.6,"b":4.3,"g":0.938},{"t":3.375,"a":3.6,"b":4.3,"g":0.938},{"t":3.625,"a":3.6,"b":4.3,"g":0.938},{"t":3.875,"a":3.6,"b":4.3,"g":0.938},{"t":4.125,"a":3.6,"b":4.3,"g":0.938},{"t":4.375,"a":3.6,"b":4.3,"g":0.938},{"t":4.625,"a":3.6,"b":4.3,"g":0.938},{"t":4.875,"a":3.6,"b":4.3,"g":0.938},
{"t":-4.875,"a":4.3,"b":5.0,"g":0.938},{"t":-4.625,"a":4.3,"b":5.0,"g":0.938},{"t":-4.375,"a":4.3,"b":5.0,"g":0.938},{"t":-4.125,"a":4.3,"b":5.0,"g":0.938},{"t":-3.875,"a":4.3,"b":5.0,"g":0.938},{"t":-3.625,"a":4.3,"b":5.0,"g":0.938},{"t":-3.375,"a":4.3,"b":5.0,"g":0.938},{"t":-3.125,"a":4.3,"b":5.0,"g":0.938},{"t":-2.875,"a":4.3,"b":5.0,"g":0.938},{"t":-2.625,"a":4.3,"b":5.0,"g":0.938},{"t":-2.375,"a":4.3,"b":5.0,"g":0.938},{"t":-2.125,"a":4.3,"b":5.0,"g":0.938},{"t":-1.875,"a":4.3,"b":5.0,"g":0.938},{"t":-1.625,"a":4.3,"b":5.0,"g":0.938},{"t":-1.375,"a":4.3,"b":5.0,"g":0.9382},{"t":-1.125,"a":4.3,"b":5.0,"g":0.9391},{"t":-0.875,"a":4.3,"b":5.0,"g":0.9405},{"t":-0.625,"a":4.3,"b":5.0,"g":0.9399},{"t":-0.375,"a":4.3,"b":5.0,"g":0.9375},{"t":-0.125,"a":4.3,"b":5.0,"g":0.9353},
{"t":0.125,"a":4.3,"b":5.0,"g":0.9353},{"t":0.375,"a":4.3,"b":5.0,"g":0.9375},{"t":0.625,"a":4.3,"b":5.0,"g":0.9399},{"t":0.875,"a":4.3,"b":5.0,"g":0.9405},{"t":1.125,"a":4.3,"b":5.0,"g":0.9391},{"t":1.375,"a":4.3,"b":5.0,"g":0.9382},{"t":1.625,"a":4.3,"b":5.0,"g":0.938},{"t":1.875,"a":4.3,"b":5.0,"g":0.938},{"t":2.125,"a":4.3,"b":5.0,"g":0.938},{"t":2.375,"a":4.3,"b":5.0,"g":0.938},{"t":2.625,"a":4.3,"b":5.0,"g":0.938},{"t":2.875,"a":4.3,"b":5.0,"g":0.938},{"t":3.125,"a":4.3,"b":5.0,"g":0.938},{"t":3.375,"a":4.3,"b":5.0,"g":0.938},{"t":3.625,"a":4.3,"b":5.0,"g":0.938},{"t":3.875,"a":4.3,"b":5.0,"g":0.938},{"t":4.125,"a":4.3,"b":5.0,"g":0.938},{"t":4.375,"a":4.3,"b":5.0,"g":0.938},{"t":4.625,"a":4.3,"b":5.0,"g":0.938},{"t":4.875,"a":4.3,"b":5.0,"g":0.938}
],
"lb":[
{"x":-5,"g":1,"s":"|{α}⟩"},{"x":5,"g":1,"s":"|{α}⟩"},
{"x":-5,"g":0.938,"s":"|{α},1ξ⟩"},{"x":-4.5,"g":0.938,"s":"|{α},1ξ⟩"},{"x":-4,"g":0.938,"s":"|{α},1ξ⟩"},{"x":-3.5,"g":0.938,"s":"|{α},1ξ⟩"},{"x":-3,"g":0.938,"s":"|{α},1ξ⟩"},{"x":-2.75,"g":0.9381,"s":"|{α},1ξ⟩"},{"x":-2.5,"g":0.9382,"s":"|{α},1ξ⟩"},{"x":-2.25,"g":0.9387,"s":"|{α},1ξ⟩"},{"x":-2,"g":0.9398,"s":"|{α},1ξ⟩"},{"x":-1.75,"g":0.9414,"s":"|{α},1ξ⟩"},{"x":-1.5,"g":0.9422,"s":"|{α},1ξ⟩"},{"x":-1.25,"g":0.9414,"s":"|{α},1ξ⟩"},{"x":-1,"g":0.9392,"s":"|{α},1ξ⟩"},{"x":-0.75,"g":0.936,"s":"|{α},1ξ⟩"},{"x":-0.5,"g":0.9334,"s":"|{α},1ξ⟩"},{"x":-0.25,"g":0.9321,"s":"|{α},1ξ⟩"},{"x":0,"g":0.9318,"s":"|{α},1ξ⟩"},{"x":0.25,"g":0.9321,"s":"|{α},1ξ⟩"},{"x":0.5,"g":0.9334,"s":"|{α},1ξ⟩"},{"x":0.75,"g":0.936,"s":"|{α},1ξ⟩"},{"x":1,"g":0.9392,"s":"|{α},1ξ⟩"},{"x":1.25,"g":0.9414,"s":"|{α},1ξ⟩"},{"x":1.5,"g":0.9422,"s":"|{α},1ξ⟩"},{"x":1.75,"g":0.9414,"s":"|{α},1ξ⟩"},{"x":2,"g":0.9398,"s":"|{α},1ξ⟩"},{"x":2.25,"g":0.9387,"s":"|{α},1ξ⟩"},{"x":2.5,"g":0.9382,"s":"|{α},1ξ⟩"},{"x":2.75,"g":0.9381,"s":"|{α},1ξ⟩"},{"x":3,"g":0.938,"s":"|{α},1ξ⟩"},{"x":3.5,"g":0.938,"s":"|{α},1ξ⟩"},{"x":4,"g":0.938,"s":"|{α},1ξ⟩"},{"x":4.5,"g":0.938,"s":"|{α},1ξ⟩"},{"x":5,"g":0.938,"s":"|{α},1ξ⟩"}
],
"lc":[
{"x":0,"g":1,"s":"|{α}⟩"},{"x":5,"g":1,"s":"|{α}⟩"},
{"x":0.12,"g":0.9416,"s":"|{α},1ξ⟩"},{"x":0.2,"g":0.9392,"s":"|{α},1ξ⟩"},{"x":0.3,"g":0.9366,"s":"|{α},1ξ⟩"},{"x":0.4,"g":0.9347,"s":"|{α},1ξ⟩"},{"x":0.5,"g":0.9335,"s":"|{α},1ξ⟩"},{"x":0.6,"g":0.9327,"s":"|{α},1ξ⟩"},{"x":0.7,"g":0.9321,"s":"|{α},1ξ⟩"},{"x":0.8,"g":0.9318,"s":"|{α},1ξ⟩"},{"x":0.9,"g":0.9316,"s":"|{α},1ξ⟩"},{"x":1.0,"g":0.9315,"s":"|{α},1ξ⟩"},{"x":1.25,"g":0.9318,"s":"|{α},1ξ⟩"},{"x":1.5,"g":0.9324,"s":"|{α},1ξ⟩"},{"x":2.0,"g":0.9336,"s":"|{α},1ξ⟩"},{"x":2.5,"g":0.9347,"s":"|{α},1ξ⟩"},{"x":3.0,"g":0.9358,"s":"|{α},1ξ⟩"},{"x":3.5,"g":0.9367,"s":"|{α},1ξ⟩"},{"x":4.0,"g":0.9375,"s":"|{α},1ξ⟩"},{"x":4.5,"g":0.9381,"s":"|{α},1ξ⟩"},{"x":5.0,"g":0.9386,"s":"|{α},1ξ⟩"}
]
},
"vconcat":[
{
"width":348,"height":138,
"title":{"text":"a)","offset":7},
"layer":[
{"data":{"name":"heat"},"mark":{"type":"rect","strokeWidth":0.6},
"encoding":{
"x":{"field":"t","type":"quantitative","bin":{"step":0.25,"extent":[-5,5]},"scale":{"domain":[-5.27,5.25],"nice":false,"zero":false},"axis":{"values":[-4,-2,0,2,4],"tickCount":20,"format":"d","title":"τ (units of 1/Ω)","labelPadding":5,"titlePadding":3,"labelOverlap":false}},
"y":{"field":"a","type":"quantitative","scale":{"domain":[0.165,5.12],"nice":false,"zero":false},"axis":{"values":[1,2,3,4,5],"tickCount":20,"format":"d","title":"Ω₁ (units of Ω)","labelPadding":2,"titlePadding":7,"labelOverlap":false}},
"y2":{"field":"b"},
"color":{"field":"g","type":"quantitative","scale":{"domain":[0.931,0.9325,0.934,0.9355,0.937,0.938,0.9395,0.9413],"clamp":true,"range":["#2a176c","#2e3d8a","#29638e","#21868c","#2aa784","#55c07a","#93d25f","#e8e34d"]},
"legend":{"title":"g⁽²⁾[0]","orient":"none","legendX":368,"legendY":5,"direction":"vertical","gradientLength":113,"gradientThickness":7,"gradientStrokeWidth":0,"values":[0.932,0.934,0.936,0.938,0.94],"format":".3f","labelFontSize":9,"labelOverlap":false,"labelOffset":4,"titleFontSize":9,"titleFontStyle":"italic","titleFontWeight":"normal","titleFont":"DejaVu Sans"}},
"stroke":{"field":"g","type":"quantitative","scale":{"domain":[0.931,0.9325,0.934,0.9355,0.937,0.938,0.9395,0.9413],"clamp":true,"range":["#2a176c","#2e3d8a","#29638e","#21868c","#2aa784","#55c07a","#93d25f","#e8e34d"]},"legend":null}
}},
{"data":{"values":[{}]},"mark":{"type":"rule","color":"#e8e8e8","strokeDash":[3,2],"strokeWidth":1.5},"encoding":{"x":{"datum":0,"type":"quantitative"}}},
{"data":{"values":[{}]},"mark":{"type":"rule","color":"#e8e8e8","strokeDash":[3,2],"strokeWidth":1.5},"encoding":{"y":{"datum":1,"type":"quantitative"}}}
]
},
{
"hconcat":[
{
"width":176,"height":108,
"title":{"text":"b)","offset":4},
"data":{"name":"lb"},
"layer":[
{"mark":{"type":"rule","color":"#aaa","strokeDash":[3,2],"strokeWidth":0.9},"encoding":{"x":{"datum":0,"type":"quantitative"}}},
{"mark":{"type":"line","interpolate":"monotone","strokeWidth":1.4},
"encoding":{
"x":{"field":"x","type":"quantitative","scale":{"domain":[-5.05,5.2],"nice":false,"zero":false},"axis":{"values":[-4,-2,0,2,4],"tickCount":20,"format":"d","title":"τ (units of 1/Ω)","labelPadding":1,"titlePadding":3,"labelOverlap":false}},
"y":{"field":"g","type":"quantitative","scale":{"domain":[0.9,1.0056],"nice":false,"zero":false},"axis":{"values":[0.9,0.92,0.94,0.96,0.98,1.0],"tickCount":20,"format":".2f","title":"g⁽²⁾[0]","labelPadding":2,"titlePadding":5,"labelOverlap":false}},
"color":{"field":"s","type":"nominal","scale":{"domain":["|{α}⟩","|{α},1ξ⟩"],"range":["#1fa51f","#2479c8"]},"legend":null},
"strokeDash":{"field":"s","type":"nominal","scale":{"domain":["|{α}⟩","|{α},1ξ⟩"],"range":[[4,2],[1,0]]},"legend":null}
}}
]
},
{
"width":174,"height":108,
"title":{"text":"c)","offset":4},
"data":{"name":"lc"},
"layer":[
{"mark":{"type":"rule","color":"#aaa","strokeDash":[3,2],"strokeWidth":0.9},"encoding":{"x":{"datum":1,"type":"quantitative"}}},
{"mark":{"type":"line","interpolate":"monotone","strokeWidth":1.4},
"encoding":{
"x":{"field":"x","type":"quantitative","scale":{"domain":[0,5.1],"nice":false,"zero":false},"axis":{"values":[0,1,2,3,4,5],"tickCount":20,"format":"d","title":"Ω₁ (units of Ω)","labelPadding":1,"titlePadding":3,"labelOverlap":false}},
"y":{"field":"g","type":"quantitative","scale":{"domain":[0.9,1.0056],"nice":false,"zero":false},"axis":{"values":[0.9,0.92,0.94,0.96,0.98,1.0],"tickCount":20,"labels":false,"title":null}},
"color":{"field":"s","type":"nominal","scale":{"domain":["|{α}⟩","|{α},1ξ⟩"],"range":["#1fa51f","#2479c8"]},
"legend":{"title":null,"orient":"none","legendX":184,"legendY":47,"symbolType":"M-2,0H2","symbolSize":110,"symbolStrokeWidth":1.4,"labelFontSize":8,"labelFont":"DejaVu Sans","labelOffset":4,"rowPadding":0}},
"strokeDash":{"field":"s","type":"nominal","scale":{"domain":["|{α}⟩","|{α},1ξ⟩"],"range":[[4,2],[1,0]]},
"legend":{"title":null,"orient":"none","legendX":184,"legendY":47,"symbolType":"M-2,0H2","symbolSize":110,"symbolStrokeWidth":1.4,"labelFontSize":8,"labelFont":"DejaVu Sans","labelOffset":4,"rowPadding":0}}
}}
]
}
],
"spacing":3,
"bounds":"flush",
"resolve":{"scale":{"color":"independent","strokeDash":"independent"},"legend":{"color":"independent","strokeDash":"independent"}}
}
]
}
